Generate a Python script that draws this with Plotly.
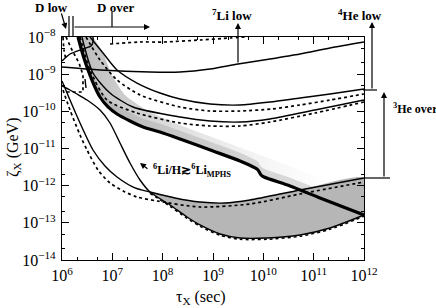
import numpy as np
import plotly.graph_objects as go

# ---- data: log10(tau_X / sec), log10(zeta_X / GeV) ----
thick_lx = [6.318, 6.417, 6.517, 6.636, 6.755, 6.914, 7.093, 7.351, 7.609, 7.947, 8.345, 9.000, 9.537, 9.835, 9.894, 9.954, 10.013, 10.530, 11.126, 12.0]
thick_ly = [-8.0, -8.484, -8.888, -9.291, -9.614, -9.883, -10.072, -10.260, -10.421, -10.556, -10.744, -11.067, -11.336, -11.524, -11.578, -11.713, -11.767, -12.009, -12.331, -12.789]

band_lx = [6.616, 6.815, 6.993, 7.252, 7.748, 8.345, 9.139, 9.934, 10.729, 12.0]
band_ly = [-8.0, -8.430, -9.022, -9.560, -10.018, -10.367, -10.771, -11.175, -11.578, -12.385]

c1_lx = [6.556, 6.815, 7.093, 7.490, 7.947, 8.345, 8.941, 9.537, 10.133, 10.729, 11.325, 12.0]
c1_ly = [-8.0, -8.430, -8.888, -9.238, -9.507, -9.668, -9.803, -9.829, -9.749, -9.641, -9.534, -9.399]
c2_lx = [6.477, 6.755, 7.093, 7.550, 8.345, 8.941, 9.537, 10.172, 10.729, 11.325, 12.0]
c2_ly = [-8.0, -8.619, -9.157, -9.560, -9.883, -9.991, -9.991, -9.937, -9.829, -9.695, -9.534]
c3_lx = [6.397, 6.616, 6.954, 7.411, 8.345, 8.941, 9.537, 10.133, 11.027, 12.0]
c3_ly = [-8.0, -8.969, -9.507, -9.883, -10.152, -10.260, -10.287, -10.206, -9.964, -9.695]
c4_lx = [6.358, 6.556, 6.894, 7.490, 8.345, 8.941, 9.537, 10.133, 11.027, 12.0]
c4_ly = [-8.0, -8.888, -9.695, -10.045, -10.314, -10.394, -10.394, -10.287, -10.045, -9.749]

li7_lx = [6.0, 6.755, 7.748, 8.345, 8.941, 9.497, 10.133, 10.729, 11.325, 12.0]
li7_ly = [-8.807, -8.888, -8.942, -8.942, -8.861, -8.726, -8.592, -8.457, -8.296, -8.135]

oval_lx = [6.0, 6.159, 6.417, 6.576, 6.616, 6.616]
oval_ly = [-8.646, -8.457, -8.323, -8.242, -8.135, -8.0]
dbox_lx = [6.079, 6.199, 6.338, 6.417, 6.417, 6.219, 6.020]
dbox_ly = [-8.0, -8.350, -8.700, -9.022, -9.480, -9.480, -9.480]
dleft_lx = [6.02, 6.04, 6.079]
dleft_ly = [-8.0, -8.35, -8.619]
glyph_lx = [6.457, 6.477]
glyph_ly = [-9.130, -9.372]
topd_lx = [6.954, 7.550, 8.007, 8.742, 9.338, 9.636]
topd_ly = [-8.188, -8.135, -8.135, -8.081, -8.027, -8.0]

s1_lx = [6.0, 6.159, 6.358, 6.616, 6.854, 7.093, 7.450, 7.748, 8.245, 8.742, 9.239, 9.735, 10.729, 12.0]
s1_ly = [-9.184, -9.695, -10.314, -11.040, -11.471, -11.767, -12.062, -12.170, -12.331, -12.439, -12.466, -12.385, -12.116, -11.793]
d1_lx = [6.020, 6.159, 6.358, 6.497, 6.715, 6.954, 7.252, 7.490, 7.888, 8.742, 9.735, 10.729, 12.0]
d1_ly = [-9.426, -9.964, -10.637, -11.040, -11.578, -11.928, -12.170, -12.305, -12.412, -12.574, -12.493, -12.224, -11.901]

li6_lx = [6.0, 6.159, 6.298, 6.497, 6.755, 6.954, 7.152, 7.351, 7.550, 7.748, 8.146, 8.484, 8.742, 9.139, 9.537, 10.073, 10.729, 11.325, 12.0]
li6_ly = [-9.318, -9.426, -9.534, -9.695, -9.964, -10.314, -10.852, -11.390, -11.847, -12.170, -12.520, -12.843, -13.058, -13.300, -13.408, -13.408, -13.327, -13.139, -12.789]

ticks_x = [6, 7, 8, 9, 10, 11, 12]
ticks_y = [-14, -13, -12, -11, -10, -9, -8]


def X(a):
    return 10 ** np.array(a, dtype=float)


fig = go.Figure()

# gradient band above the thick curve
bx = list(thick_lx) + list(band_lx[::-1])
by = list(thick_ly) + list(band_ly[::-1])
fig.add_trace(go.Scatter(x=X(bx), y=X(by), mode='lines', line=dict(width=0, shape='spline', smoothing=0.6),
                         fill='toself',
                         fillgradient=dict(type='horizontal',
                                           colorscale=[[0, 'rgba(165,165,165,0.75)'], [0.5, 'rgba(215,215,215,0.5)'],
                                                       [1, 'rgba(255,255,255,0)']]),
                         hoverinfo='skip', showlegend=False))
ix = list(thick_lx) + list(thick_lx[::-1])
iy = list(thick_ly) + [y + 0.22 for y in thick_ly[::-1]]
fig.add_trace(go.Scatter(x=X(ix), y=X(iy), mode='lines', line=dict(width=0, shape='spline', smoothing=0.6),
                         fill='toself',
                         fillgradient=dict(type='horizontal',
                                           colorscale=[[0, 'rgba(150,150,150,0.35)'], [1, 'rgba(195,195,195,0.55)']]),
                         hoverinfo='skip', showlegend=False))

# lower shaded region between s1 and li6 beyond their crossing
k1 = s1_lx.index(7.748)
k2 = li6_lx.index(7.748)
fx = s1_lx[k1:] + li6_lx[k2:][::-1]
fy = s1_ly[k1:] + li6_ly[k2:][::-1]
fig.add_trace(go.Scatter(x=X(fx), y=X(fy), mode='lines', line=dict(width=0, shape='spline', smoothing=0.6),
                         fill='toself', fillcolor='rgb(182,182,182)', hoverinfo='skip', showlegend=False))

solid = dict(color='black', width=1.4)
dot = dict(color='black', width=1.7, dash='dot')


def line(lx, ly, st, shape='spline'):
    kw = dict(shape=shape)
    if shape == 'spline':
        kw['smoothing'] = 0.7
    fig.add_trace(go.Scatter(x=X(lx), y=X(ly), mode='lines', line=dict(**st, **kw),
                             hoverinfo='skip', showlegend=False))


line(c1_lx, c1_ly, solid)
line(c2_lx, c2_ly, dot)
line(c3_lx, c3_ly, solid)
line(c4_lx, c4_ly, dot)
line(li7_lx, li7_ly, solid)
line(oval_lx, oval_ly, solid)
line(dbox_lx, dbox_ly, dot, 'linear')
line(dleft_lx, dleft_ly, dot)
line(glyph_lx, glyph_ly, solid, 'linear')
line(topd_lx, topd_ly, dot)
line(s1_lx, s1_ly, solid)
line(d1_lx, d1_ly, dot)
line(li6_lx, li6_ly, solid)
line(li6_lx[k2:], [v - 0.035 for v in li6_ly[k2:]], dict(color='black', width=1.5, dash='dot'))
line(thick_lx, thick_ly, dict(color='black', width=3.2))

font = 'Liberation Serif'
axcommon = dict(type='log', showline=True, linecolor='black', linewidth=1.2, mirror='ticks',
                ticks='inside', ticklen=7, tickcolor='black', tickwidth=1, showgrid=False, zeroline=False,
                tickfont=dict(family=font, size=16, color='black'),
                minor=dict(ticks='inside', ticklen=3, tickcolor='black', showgrid=False))
fig.update_xaxes(**axcommon, range=[6, 12], tickvals=X(ticks_x),
                 ticktext=['10<sup>%d</sup>' % t for t in ticks_x], ticklabelstandoff=1)
fig.update_yaxes(**axcommon, range=[-14, -8], tickvals=X(ticks_y),
                 ticktext=['10<sup>−%d</sup>' % (-t) for t in ticks_y], ticklabelstandoff=2)

# plot area on page px 62..364 x 37..260 (body margin removed below)
W, H = 436, 308
L, R, T, B = 62, 72, 37, 48
pw, ph = W - L - R, H - T - B


def P(x, y):
    return (x - L) / pw, 1 - (y - T) / ph


def seg(x0, y0, x1, y1, w=1.2):
    a, b = P(x0, y0)
    c, d = P(x1, y1)
    fig.add_shape(type='line', xref='paper', yref='paper', x0=a, y0=b, x1=c, y1=d,
                  line=dict(color='black', width=w))


def arrow(x0, y0, x1, y1):
    a, b = P(x1, y1)
    fig.add_annotation(xref='paper', yref='paper', x=a, y=b, ax=x0 - x1, ay=y0 - y1,
                       axref='pixel', ayref='pixel',
                       showarrow=True, arrowhead=2, arrowsize=1, arrowwidth=1.2, arrowcolor='black', text='')


def label(x, y, t, size=13, anchor='center', angle=0):
    a, b = P(x, y)
    fig.add_annotation(xref='paper', yref='paper', x=a, y=b, text=t, showarrow=False, textangle=angle,
                       xanchor=anchor, yanchor='middle', font=dict(family=font, size=size, color='black'))


seg(69, 16, 69, 37)
seg(73, 16, 73, 37)
arrow(61, 12, 66, 29)
arrow(73, 27, 150, 27)
seg(112, 12, 112, 27)
arrow(238, 64, 238, 23)
seg(363, 90, 377, 90)
arrow(372, 90, 372, 22)
seg(364, 178, 390, 178)
arrow(384, 178, 384, 92)
arrow(149, 170, 140, 163)

label(51, 7, '<b>D low</b>', 13)
label(115, 7, '<b>D over</b>', 13)
label(232, 15, '<b><sup>7</sup>Li low</b>', 13)
label(360, 15, '<b><sup>4</sup>He low</b>', 13)
label(391, 108, '<b><sup>3</sup>He over</b>', 12, 'left')
label(151, 170, '<b><sup>6</sup>Li/H≳<sup>6</sup>Li<sub>MPHS</sub></b>', 12, 'left')
label(201, 297, 'τ<sub>X</sub> (sec)', 16)
label(13, 147, 'ζ<sub>X</sub> (GeV)', 16, 'center', -90)

fig.update_layout(width=W, height=H, margin=dict(l=L, r=R, t=T, b=B),
                  plot_bgcolor='white', paper_bgcolor='white', showlegend=False)
fig.write_html('out.html', config={'displayModeBar': False},
               post_script="document.body.style.margin='0px';document.body.style.overflow='hidden';")
